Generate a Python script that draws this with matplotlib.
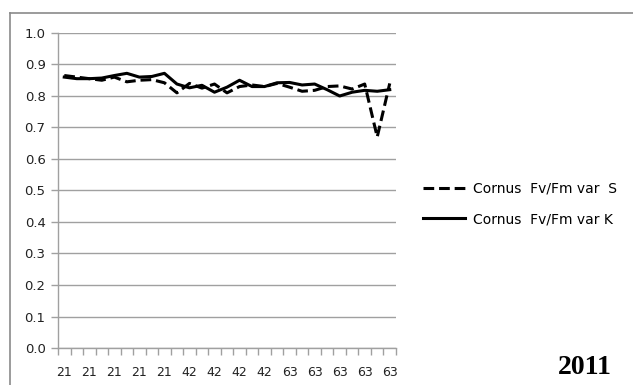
import numpy as np
import matplotlib.pyplot as plt
from matplotlib.lines import Line2D

# days after treatment, one entry per measurement (9 per date)
days = [21, 21, 21, 21, 21, 21, 21, 21, 21,
        42, 42, 42, 42, 42, 42, 42, 42, 42,
        63, 63, 63, 63, 63, 63, 63, 63, 63]
fvfm_S = [0.865, 0.860, 0.855, 0.850, 0.860, 0.845, 0.850, 0.852, 0.842,
          0.810, 0.840, 0.825, 0.838, 0.810, 0.830, 0.835, 0.830, 0.840,
          0.828, 0.815, 0.818, 0.830, 0.832, 0.822, 0.838, 0.670, 0.840]
fvfm_K = [0.860, 0.855, 0.855, 0.857, 0.865, 0.872, 0.860, 0.862, 0.872,
          0.838, 0.826, 0.834, 0.812, 0.828, 0.850, 0.830, 0.830, 0.842,
          0.843, 0.835, 0.838, 0.820, 0.800, 0.812, 0.818, 0.815, 0.820]
labels = ["Cornus  Fv/Fm var  S", "Cornus  Fv/Fm var K"]

GRID = "#a0a0a0"
INK = "#222222"

fig = plt.figure(figsize=(6.33, 3.85), dpi=100)
ax = fig.add_axes([58/633, 1-348/385, 338/633, 315/385])

x = np.arange(len(days))
ax.plot(x, fvfm_S, color="black", lw=2.2, ls=(0, (3.5, 1.6)), label=labels[0], zorder=3)
ax.plot(x, fvfm_K, color="black", lw=2.2, label=labels[1], zorder=3)

ax.set_xlim(-0.5, len(days) - 0.5)
ax.set_ylim(0, 1.0)
ax.set_yticks(np.arange(0, 1.01, 0.1))
ax.set_yticklabels([f"{v:.1f}" for v in np.arange(0, 1.01, 0.1)])
ax.set_xticks(x[::2])
ax.set_xticklabels([str(d) for d in days[::2]])
ax.set_xticks(np.arange(-0.5, len(days), 1), minor=True)
ax.tick_params(axis="x", which="major", length=0, pad=13, labelsize=9, labelcolor=INK)
ax.tick_params(axis="x", which="minor", length=5, color=GRID, width=1)
ax.tick_params(axis="y", length=5, color=GRID, width=1, pad=4, labelsize=9.5, labelcolor=INK)

ax.yaxis.grid(True, color=GRID, lw=1)
ax.set_axisbelow(True)
for s in ["top", "right"]:
    ax.spines[s].set_visible(False)
for s in ["left", "bottom"]:
    ax.spines[s].set_color(GRID)
    ax.spines[s].set_linewidth(1)

ax.legend(loc="center left", bbox_to_anchor=(423/633, 1-204/385),
          bbox_transform=fig.transFigure, frameon=False, fontsize=10,
          handlelength=3.0, handletextpad=0.6, labelspacing=1.2,
          borderpad=0, borderaxespad=0)

# outer chart border (only top and left visible in the crop)
fig.add_artist(Line2D([10/633, 10/633], [0, 1-13/385], color="#8a8a8a", lw=1.2,
                      transform=fig.transFigure))
fig.add_artist(Line2D([10/633, 1], [1-13/385, 1-13/385], color="#8a8a8a", lw=1.2,
                      transform=fig.transFigure))

fig.text(585/633, 1-367/385, "2011", ha="center", va="center",
         fontsize=20, fontweight="bold", family="Liberation Serif")

fig.savefig("out.png", dpi=100)
